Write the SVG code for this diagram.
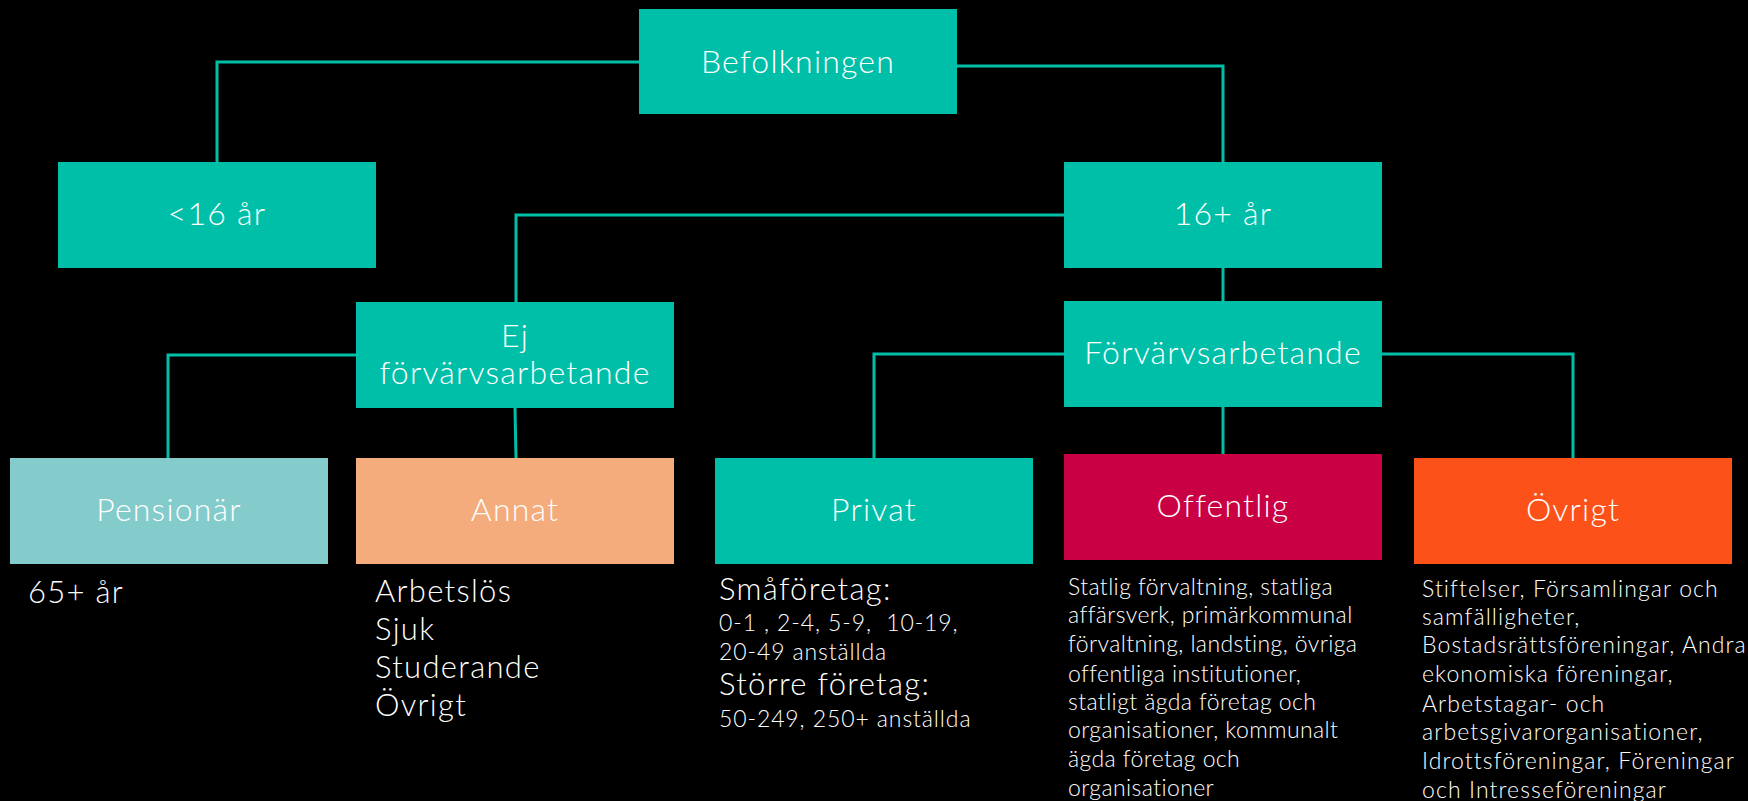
<svg xmlns="http://www.w3.org/2000/svg" width="1748" height="801" viewBox="0 0 1748 801">
<style>
.bg{fill:#000}
.teal{fill:#00BFA9}
.pens{fill:#84CBCB}
.annat{fill:#F4AC7C}
.off{fill:#CA0044}
.ovr{fill:#FC5219}
.lbl{font-family:Lato,"Liberation Sans",sans-serif;font-weight:300;font-size:32px;letter-spacing:1.2px;fill:#fff;text-anchor:middle}
.big{font-family:Lato,"Liberation Sans",sans-serif;font-weight:300;font-size:31px;letter-spacing:1.3px;fill:#fff}
.sm{font-family:Lato,"Liberation Sans",sans-serif;font-weight:300;font-size:23px;letter-spacing:0.9px;fill:#fff}
.desc{font-family:Lato,"Liberation Sans",sans-serif;font-weight:300;font-size:23px;fill:#fff}
.d1{letter-spacing:0.4px}
.d2{letter-spacing:1.1px}
.con{fill:none;stroke:#00BFA9;stroke-width:3}
</style>
<rect class="bg" x="0" y="0" width="1748" height="801"/>
<g id="connectors">
<polyline class="con" points="639,62 217,62 217,163"/>
<polyline class="con" points="957,66 1223,66 1223,163"/>
<polyline class="con" points="1065,215 516,215 516,302"/>
<polyline class="con" points="1223,268 1223,302"/>
<polyline class="con" points="357,355 168,355 168,458"/>
<polyline class="con" points="515,408 516,458"/>
<polyline class="con" points="1065,354 874,354 874,458"/>
<polyline class="con" points="1223,407 1223,454"/>
<polyline class="con" points="1382,354 1573,354 1573,458"/>
</g>
<g id="befolkningen">
<rect class="teal" x="639" y="9" width="318" height="105"/>
<text class="lbl" x="798" y="73">Befolkningen</text>
</g>
<g id="under16">
<rect class="teal" x="58" y="162" width="318" height="106"/>
<text class="lbl" x="217" y="225">&lt;16 år</text>
</g>
<g id="over16">
<rect class="teal" x="1064" y="162" width="318" height="106"/>
<text class="lbl" x="1223" y="225">16+ år</text>
</g>
<g id="ej">
<rect class="teal" x="356" y="302" width="318" height="106"/>
<text class="lbl" x="515" y="347">Ej</text>
<text class="lbl" x="515" y="384">förvärvsarbetande</text>
</g>
<g id="forv">
<rect class="teal" x="1064" y="301" width="318" height="106"/>
<text class="lbl" x="1223" y="364">Förvärvsarbetande</text>
</g>
<g id="pensionar">
<rect class="pens" x="10" y="458" width="318" height="106"/>
<text class="lbl" x="169" y="521">Pensionär</text>
<text class="big" x="28" y="603">65+ år</text>
</g>
<g id="annat">
<rect class="annat" x="356" y="458" width="318" height="106"/>
<text class="lbl" x="515" y="521">Annat</text>
<text class="big" x="375" y="602">Arbetslös</text>
<text class="big" x="375" y="640">Sjuk</text>
<text class="big" x="375" y="678">Studerande</text>
<text class="big" x="375" y="716">Övrigt</text>
</g>
<g id="privat">
<rect class="teal" x="715" y="458" width="318" height="106"/>
<text class="lbl" x="874" y="521">Privat</text>
<text class="big" x="719" y="600">Småföretag:</text>
<text class="sm" x="719" y="631" xml:space="preserve">0-1 , 2-4, 5-9,  10-19,</text>
<text class="sm" x="719" y="660">20-49 anställda</text>
<text class="big" x="719" y="695">Större företag:</text>
<text class="sm" x="719" y="727">50-249, 250+ anställda</text>
</g>
<g id="offentlig">
<rect class="off" x="1064" y="454" width="318" height="106"/>
<text class="lbl" x="1223" y="517">Offentlig</text>
<text class="desc d1" x="1068" y="595">Statlig förvaltning, statliga</text>
<text class="desc d1" x="1068" y="623">affärsverk, primärkommunal</text>
<text class="desc d1" x="1068" y="652">förvaltning, landsting, övriga</text>
<text class="desc d1" x="1068" y="682">offentliga institutioner,</text>
<text class="desc d1" x="1068" y="710">statligt ägda företag och</text>
<text class="desc d1" x="1068" y="738">organisationer, kommunalt</text>
<text class="desc d1" x="1068" y="767">ägda företag och</text>
<text class="desc d1" x="1068" y="796">organisationer</text>
</g>
<g id="ovrigt">
<rect class="ovr" x="1414" y="458" width="318" height="106"/>
<text class="lbl" x="1573" y="521">Övrigt</text>
<text class="desc d2" x="1422" y="597">Stiftelser, Församlingar och</text>
<text class="desc d2" x="1422" y="625">samfälligheter,</text>
<text class="desc d2" x="1422" y="653">Bostadsrättsföreningar, Andra</text>
<text class="desc d2" x="1422" y="682">ekonomiska föreningar,</text>
<text class="desc d2" x="1422" y="712">Arbetstagar- och</text>
<text class="desc d2" x="1422" y="740">arbetsgivarorganisationer,</text>
<text class="desc d2" x="1422" y="769">Idrottsföreningar, Föreningar</text>
<text class="desc d2" x="1422" y="798">och Intresseföreningar</text>
</g>
</svg>
